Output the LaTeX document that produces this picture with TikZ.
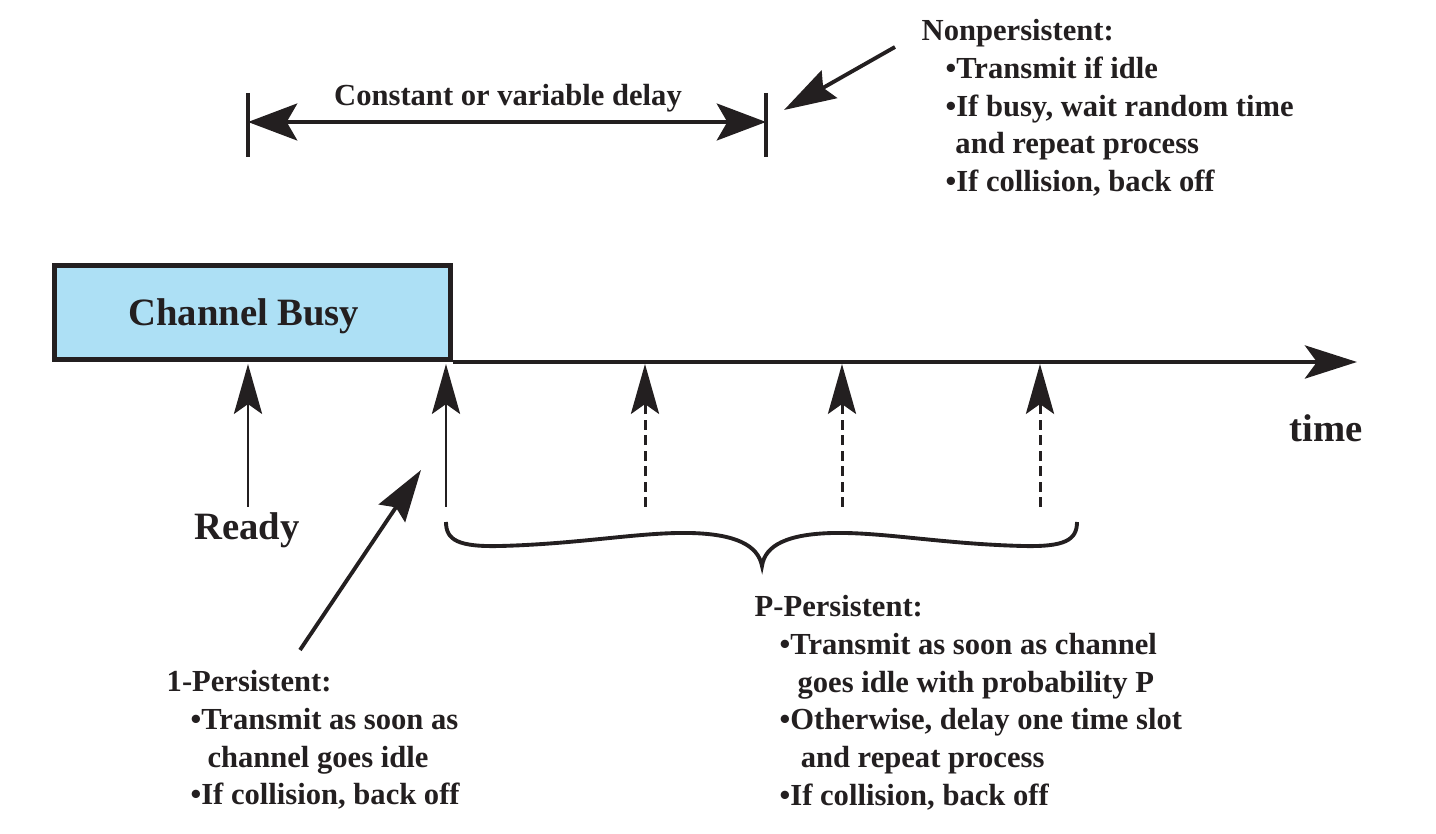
\documentclass[tikz,border=0pt]{standalone}
\usepackage{fontspec}
\setmainfont{Liberation Serif}
\usetikzlibrary{arrows.meta,positioning,calc}

\definecolor{busyblue}{RGB}{173,224,245}
\definecolor{ink}{RGB}{35,31,32}

\tikzset{
  txt/.style={font=\bfseries\fontsize{8.7}{10.7}\selectfont, text=ink, align=left, anchor=north west, inner sep=0pt},
  big/.style={font=\bfseries\fontsize{11}{13}\selectfont, text=ink, inner sep=0pt},
  upper/.style={draw=ink, line width=0.85pt, -{Stealth[length=14.2pt,width=8pt,inset=2.8pt]}},
  pointer/.style={draw=ink, line width=1.1pt, -{Stealth[length=14.8pt,width=9pt,inset=2pt]}},
  delayline/.style={draw=ink, line width=1.1pt, {Stealth[length=14pt,width=10.5pt,inset=3pt]}-{Stealth[length=14pt,width=10.5pt,inset=3pt]}},
}

\begin{document}
\begin{tikzpicture}[x=0.01cm, y=-0.01cm]
    \useasboundingbox (0,0) rectangle (1436,834);

    % channel busy box and time axis
    \node[big, draw=ink, fill=busyblue, line width=1.4pt, minimum width=3.96cm, minimum height=0.94cm, text depth=0pt, anchor=south west] (busy) at (52,362) {Channel Busy\hspace*{5pt}};
    \coordinate (tend) at (1357,362);
    \draw[ink, line width=1.4pt, -{Stealth[length=14.8pt,width=9.4pt,inset=3.4pt]}] (busy.south east) -- (tend);
    \node[big] (time) at (1326,428) {time};

    % ready and idle arrows
    \node[big] (ready) at (247,530) {Ready};
    \coordinate (r1) at (248,364);
    \draw[upper] (r1 |- 0,507) -- (r1);
    \coordinate (s0) at (446,507);
    \coordinate (s1) at (446,364);
    \draw[upper] (s0) -- (s1);
    \foreach \x/\n in {645/a,842/b,1040/c} {
        \coordinate (\n0) at (\x,507);
        \coordinate (\n1) at (\x,364);
        \draw[upper, dash pattern=on 2.8pt off 1.6pt] (\n0) -- (\n1);
    }

    % brace
    \coordinate (brl) at (446,522);
    \coordinate (brr) at (1077,522);
    \coordinate (brm) at (762,566);
    \draw[ink, line width=1.1pt] (brl) .. controls (446,540) and (458,547) .. (500,546)
        .. controls (580,544) and (640,532) .. (690,533)
        .. controls (735,534) and (758,545) .. (brm)
        .. controls (765,545) and (788,534) .. (833,533)
        .. controls (883,532) and (943,544) .. (1023,546)
        .. controls (1065,547) and (1077,540) .. (brr);

    % delay
    \coordinate (dl) at (248,122);
    \coordinate (dr) at (766,122);
    \draw[ink, line width=1.1pt] ($(dl)+(0,-29)$) -- ($(dl)+(0,35)$);
    \draw[ink, line width=1.1pt] ($(dr)+(0,-29)$) -- ($(dr)+(0,35)$);
    \draw[delayline] (dl) -- (dr);
    \node[font=\bfseries\fontsize{8.7}{10.7}\selectfont, text=ink, inner sep=0pt, anchor=base] (delay) at (508,106) {Constant or variable delay};

    % nonpersistent
    \node[txt] (nonp) at (921,19) {Nonpersistent:\\
        \hspace*{6.8pt}•Transmit if idle\\
        \hspace*{6.8pt}•If busy, wait random time\\
        \hspace*{9.6pt}and repeat process\\
        \hspace*{6.8pt}•If collision, back off};
    \coordinate (nptail) at (895,47);
    \coordinate (nphead) at (784,110);
    \draw[pointer] (nptail) -- (nphead);

    % 1-persistent
    \node[txt] (onep) at (166,670) {1-Persistent:\\
        \hspace*{6.8pt}•Transmit as soon as\\
        \hspace*{11.6pt}channel goes idle\\
        \hspace*{6.8pt}•If collision, back off};
    \coordinate (optail) at (300,650);
    \coordinate (ophead) at (421,470);
    \draw[pointer] (optail) -- (ophead);

    % p-persistent
    \node[txt] (pp) at (754,595) {P-Persistent:\\
        \hspace*{7.1pt}•Transmit as soon as channel\\
        \hspace*{12.2pt}goes idle with probability P\\
        \hspace*{7.1pt}•Otherwise, delay one time slot\\
        \hspace*{13.1pt}and repeat process\\
        \hspace*{7.1pt}•If collision, back off};
\end{tikzpicture}
\end{document}
